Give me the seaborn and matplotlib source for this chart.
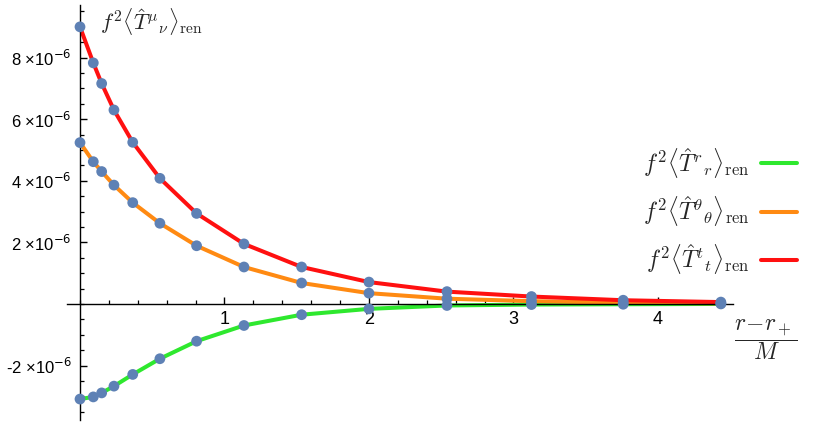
import numpy as np
import pandas as pd
import matplotlib
matplotlib.use("Agg")
import matplotlib.pyplot as plt
import seaborn as sns
from matplotlib.ticker import FixedLocator, MultipleLocator, FuncFormatter
from matplotlib.lines import Line2D

# radial coordinate (r - r_+)/M of the sample points
x_pts = [0.0, 0.092, 0.15, 0.235, 0.365, 0.553, 0.807, 1.135, 1.534, 2.0, 2.54, 3.125, 3.76, 4.436]

# f^2 <T^t_t>, <T^theta_theta>, <T^r_r> in units of 1e-6
t_tt = [9.00, 7.83, 7.16, 6.30, 5.25, 4.08, 2.94, 1.95, 1.20, 0.71, 0.40, 0.24, 0.12, 0.06]
t_thth = [5.24, 4.62, 4.30, 3.86, 3.29, 2.62, 1.89, 1.20, 0.68, 0.35, 0.17, 0.09, 0.04, 0.02]
t_rr = [-3.09, -3.02, -2.89, -2.67, -2.29, -1.78, -1.21, -0.70, -0.35, -0.16, -0.05, -0.02, -0.01, 0.0]

series_names = ["rr", "thth", "tt"]
series_labels = [r"$f^2\langle\hat{T}^{r}{}_{r}\rangle_{\rm ren}$",
                 r"$f^2\langle\hat{T}^{\theta}{}_{\theta}\rangle_{\rm ren}$",
                 r"$f^2\langle\hat{T}^{t}{}_{t}\rangle_{\rm ren}$"]
series_colors = ["#2ee82e", "#ff8a12", "#ff1010"]
y_ticks = [-2, 2, 4, 6, 8]
x_ticks = [1, 2, 3, 4]


def build_frame():
    rows = []
    for name, vals in zip(series_names, [t_rr, t_thth, t_tt]):
        for x, v in zip(x_pts, vals):
            rows.append({"x": x, "y": v * 1e-6, "series": name})
    return pd.DataFrame(rows)


def sci_label(v, pos):
    m = int(round(v / 1e-6))
    return r"%d ×10$^{-6}$" % m


def main():
    sns.set_theme(style="white")
    plt.rcParams["font.family"] = ["Liberation Sans", "DejaVu Sans"]
    plt.rcParams["mathtext.fontset"] = "cm"
    plt.rcParams["xtick.bottom"] = True
    plt.rcParams["ytick.left"] = True
    plt.rcParams["xtick.color"] = "black"
    plt.rcParams["ytick.color"] = "black"

    df = build_frame()

    fig = plt.figure(figsize=(8.31, 4.23), dpi=100)
    ax = fig.add_axes([67 / 831, 1 - 420 / 423, 666 / 831, 415 / 423])

    sns.lineplot(data=df, x="x", y="y", hue="series", hue_order=series_names,
                 palette=series_colors, linewidth=2.9, legend=False, ax=ax,
                 estimator=None, sort=True)
    sns.scatterplot(data=df, x="x", y="y", color="#5e81b5", s=60,
                    edgecolor="none", legend=False, ax=ax, zorder=5)

    ax.set_xlim(-0.09, 4.52)
    ax.set_ylim(-3.77e-6, 9.71e-6)

    for side in ["top", "right"]:
        ax.spines[side].set_visible(False)
    ax.spines["left"].set_position(("data", 0))
    ax.spines["bottom"].set_position(("data", 0))
    for side in ["left", "bottom"]:
        ax.spines[side].set_color("black")
        ax.spines[side].set_linewidth(1.0)

    ax.xaxis.set_major_locator(FixedLocator(x_ticks))
    ax.xaxis.set_minor_locator(MultipleLocator(0.2))
    ax.yaxis.set_major_locator(FixedLocator([v * 1e-6 for v in y_ticks]))
    ax.yaxis.set_minor_locator(MultipleLocator(0.5e-6))
    ax.yaxis.set_major_formatter(FuncFormatter(sci_label))
    ax.xaxis.set_major_formatter(FuncFormatter(lambda v, p: "%d" % v))

    ax.tick_params(axis="both", which="both", direction="in", color="black",
                   labelsize=12, labelcolor="black", bottom=True, left=True)
    ax.tick_params(axis="both", which="major", length=5, width=1.0)
    ax.tick_params(axis="both", which="minor", length=3.2, width=0.9)
    ax.tick_params(axis="x", which="major", pad=5, labelsize=13)
    ax.tick_params(axis="y", which="major", pad=6)
    for lab in ax.get_yticklabels():
        lab.set_math_fontfamily("dejavusans")

    ax.set_xlabel("")
    ax.set_ylabel("")

    # axis labels, Mathematica style
    fig.text(100 / 831, 1 - 22 / 423,
             r"$f^2\langle\hat{T}^{\mu}{}_{\nu}\rangle_{\rm ren}$",
             fontsize=16, ha="left", va="center")
    fig.text(766 / 831, 1 - 340 / 423, r"$\dfrac{r\!-\!r_+}{M}$",
             fontsize=17, ha="center", va="center")

    handles = [Line2D([0], [0], color=c, linewidth=2.9) for c in series_colors]
    fig.legend(handles, series_labels, loc="center right",
               bbox_to_anchor=(818 / 831, 1 - 211 / 423), frameon=False,
               markerfirst=False, fontsize=17, handlelength=1.5,
               handletextpad=0.5, labelspacing=0.6)

    fig.savefig("out.png", dpi=100)
    plt.close(fig)


if __name__ == "__main__":
    main()
